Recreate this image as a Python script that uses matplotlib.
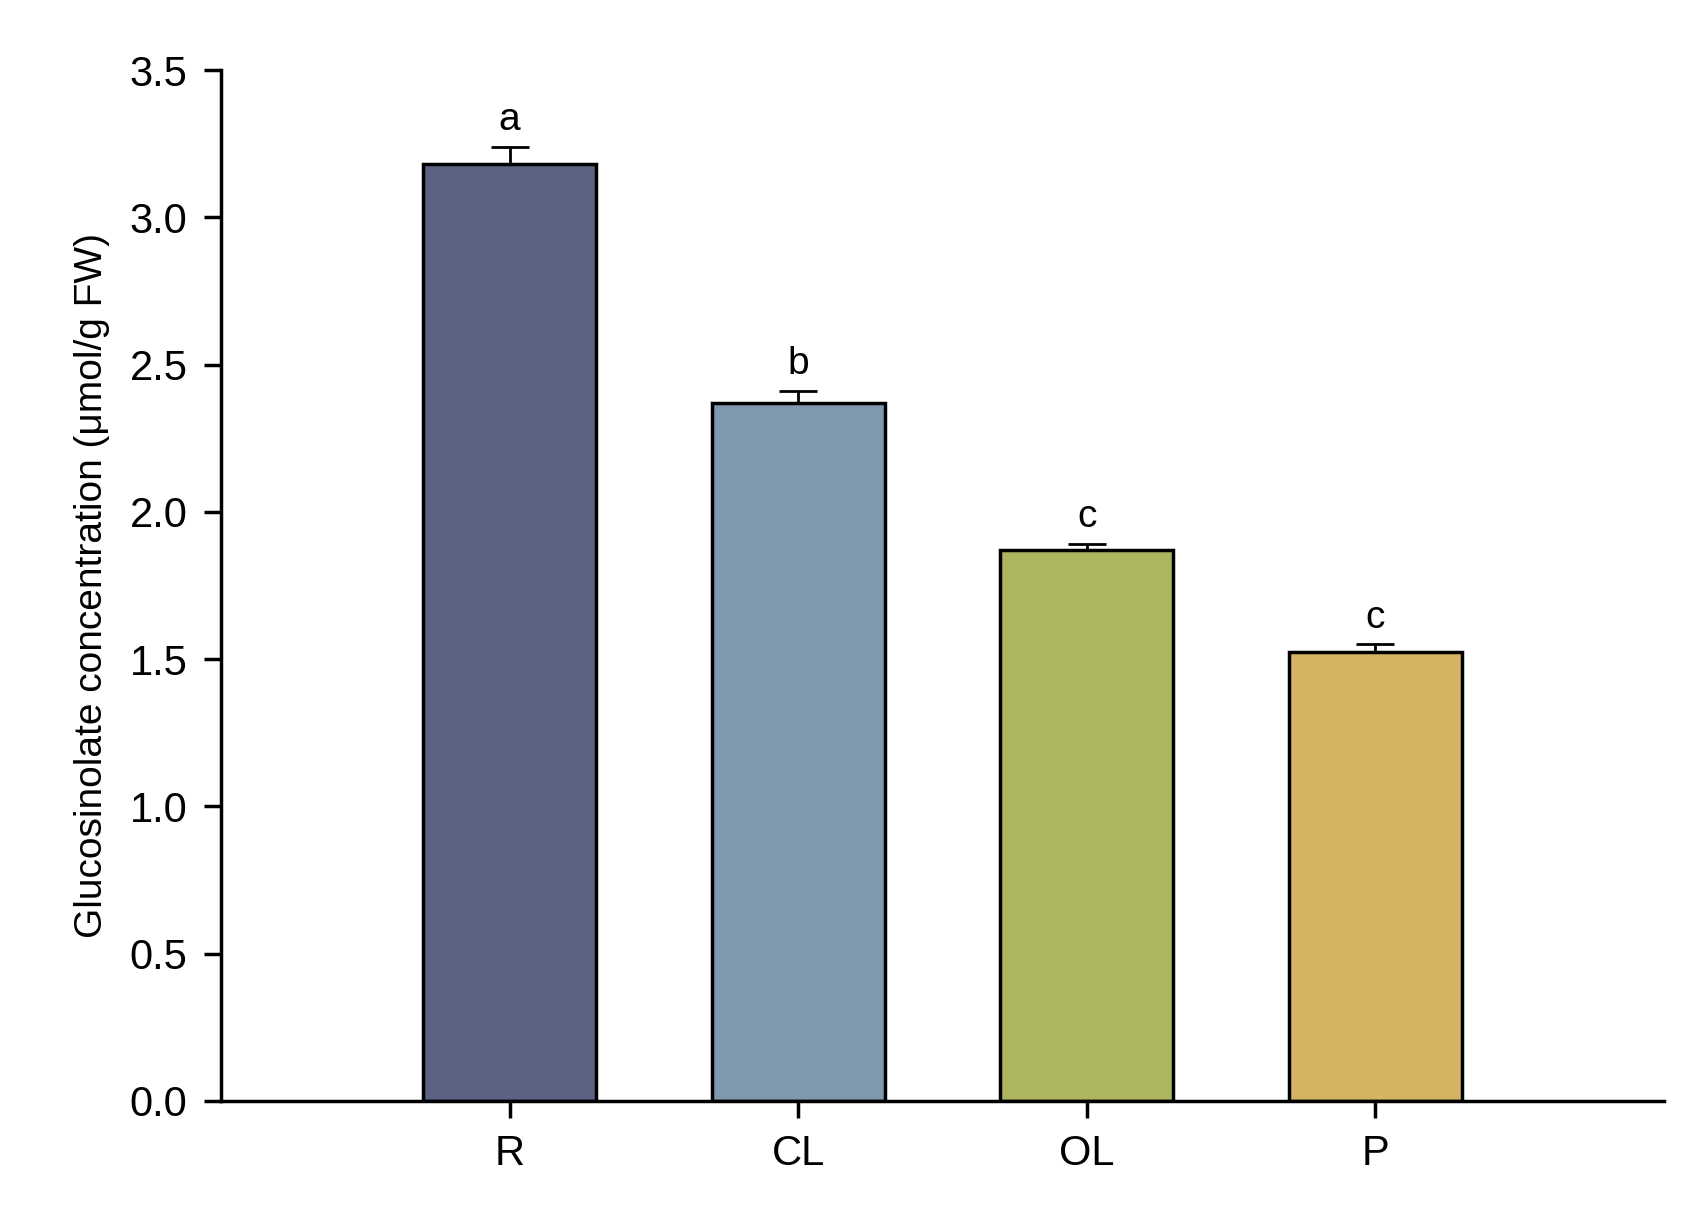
import matplotlib
matplotlib.use("Agg")
import matplotlib.pyplot as plt

categories = ["R", "CL", "OL", "P"]
values = [3.18, 2.37, 1.87, 1.525]
errors = [0.06, 0.04, 0.02, 0.025]
letters = ["a", "b", "c", "c"]
colors = ["#5b6284", "#8098ad", "#adb55f", "#d4b362"]

plt.rcParams['font.family'] = ['Liberation Sans', 'DejaVu Sans']
fig = plt.figure(figsize=(16.86, 12.11), dpi=100)
ax = fig.add_axes([0.131, 0.091, 0.856, 0.851])
x = range(len(categories))
ax.bar(x, values, width=0.6, color=colors, edgecolor="black", linewidth=2.5, zorder=2)
ax.errorbar(x, values, yerr=[[0]*4, errors], fmt="none", ecolor="black", elinewidth=2, capsize=14, capthick=2, zorder=1)
for xi, v, e, l in zip(x, values, errors, letters):
    ax.text(xi, v + e + 0.03, l, ha="center", va="bottom", fontsize=28)
ax.set_xlim(-1, 4)
ax.set_ylim(0, 3.5)
ax.set_xticks(list(x))
ax.set_xticklabels(categories, fontsize=30)
ax.set_yticks([0, 0.5, 1.0, 1.5, 2.0, 2.5, 3.0, 3.5])
ax.set_yticklabels([f"{t:.1f}" for t in [0, 0.5, 1.0, 1.5, 2.0, 2.5, 3.0, 3.5]], fontsize=30)
ax.tick_params(direction="out", length=12, width=2.5, pad=12)
ax.spines["top"].set_visible(False)
ax.spines["right"].set_visible(False)
ax.spines["left"].set_linewidth(2.5)
ax.spines["bottom"].set_linewidth(2.5)
ax.set_ylabel("Glucosinolate concentration (μmol/g FW)", fontsize=28, labelpad=14)
fig.savefig("out.png", dpi=100)
